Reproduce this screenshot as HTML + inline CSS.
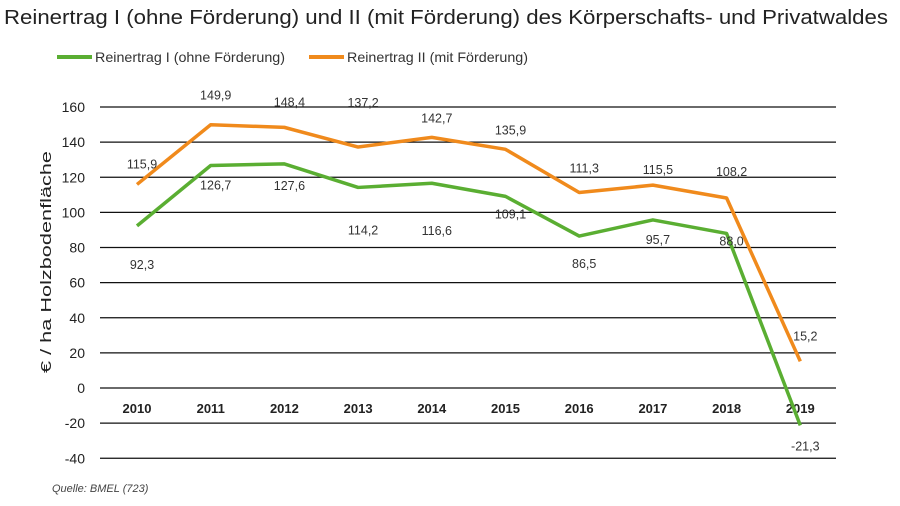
<!DOCTYPE html>
<html><head><meta charset="utf-8"><style>
body{margin:0;background:#fff;width:900px;height:506px;overflow:hidden;font-family:"Liberation Sans",sans-serif}
svg{display:block}
</style></head><body>
<svg width="900" height="506">
<text x="4" y="24" font-size="20" fill="#222" textLength="884" lengthAdjust="spacingAndGlyphs">Reinertrag I (ohne Förderung) und II (mit Förderung) des Körperschafts- und Privatwaldes</text>
<g>
<line x1="57" y1="57" x2="92" y2="57" stroke="#5aae32" stroke-width="4"/>
<text x="95" y="62" font-size="14" fill="#333" textLength="190" lengthAdjust="spacingAndGlyphs">Reinertrag I (ohne Förderung)</text>
<line x1="309" y1="57" x2="344" y2="57" stroke="#f08a1c" stroke-width="4"/>
<text x="347" y="62" font-size="14" fill="#333" textLength="181" lengthAdjust="spacingAndGlyphs">Reinertrag II (mit Förderung)</text>
</g>
<text transform="translate(51,262) rotate(-90)" text-anchor="middle" font-size="14.5" fill="#222" textLength="222" lengthAdjust="spacingAndGlyphs">€ / ha  Holzbodenfläche</text>
<g id="grid"></g><g id="lines"></g><g id="labels"></g>
<text x="52" y="492" font-size="11" font-style="italic" fill="#444">Quelle: BMEL (723)</text>
</svg>
<script>
const years=["2010","2011","2012","2013","2014","2015","2016","2017","2018","2019"];
const seriesI=[92.3,126.7,127.6,114.2,116.6,109.1,86.5,95.7,88.0,-21.3];
const seriesII=[115.9,149.9,148.4,137.2,142.7,135.9,111.3,115.5,108.2,15.2];
const yTicks=[160,140,120,100,80,60,40,20,0,-20,-40];
const labelDyI=[39,20,22,43,48,18,28,20,8,21];
const labelDyII=[-20,-29,-25,-44,-19,-19,-24,-15,-26,-25];
const NS="http://www.w3.org/2000/svg";
const y=v=>388-v*(281/160);
const x=i=>137+i*73.7;
function mk(tag,attrs,parent,text){const e=document.createElementNS(NS,tag);for(const k in attrs)e.setAttribute(k,attrs[k]);if(text!==undefined)e.textContent=text;parent.appendChild(e);return e;}
const grid=document.getElementById('grid'),lines=document.getElementById('lines'),labels=document.getElementById('labels');
yTicks.forEach(t=>{
 const l=mk('line',{x1:100,x2:836,y1:y(t),y2:y(t),stroke:'#111','stroke-width':1.3},grid);
 
 
 const tx=mk('text',{x:85,y:y(t)+5,'text-anchor':'end','font-size':14,fill:'#222'},grid,String(t));
 
 
});
years.forEach((yr,i)=>{
 const t=mk('text',{x:x(i),y:413,'text-anchor':'middle','font-size':13,'font-weight':'bold',fill:'#222'},grid,yr);
 
 
});
function drawSeries(vals,dys,color,name){
 const p=mk('polyline',{points:vals.map((v,i)=>x(i)+','+y(v)).join(' '),fill:'none',stroke:color,'stroke-width':3.5,'stroke-linejoin':'round'},lines);
 
 
 vals.forEach((v,i)=>{
  const t=mk('text',{x:x(i)+5,y:y(v)+dys[i]+4,'text-anchor':'middle','font-size':12.5,fill:'#333'},labels,v.toFixed(1).replace('.',','));
  
  
 });
}
drawSeries(seriesII,labelDyII,'#f08a1c','line-reinertrag-2');
drawSeries(seriesI,labelDyI,'#5aae32','line-reinertrag-1');
</script>
</body></html>
